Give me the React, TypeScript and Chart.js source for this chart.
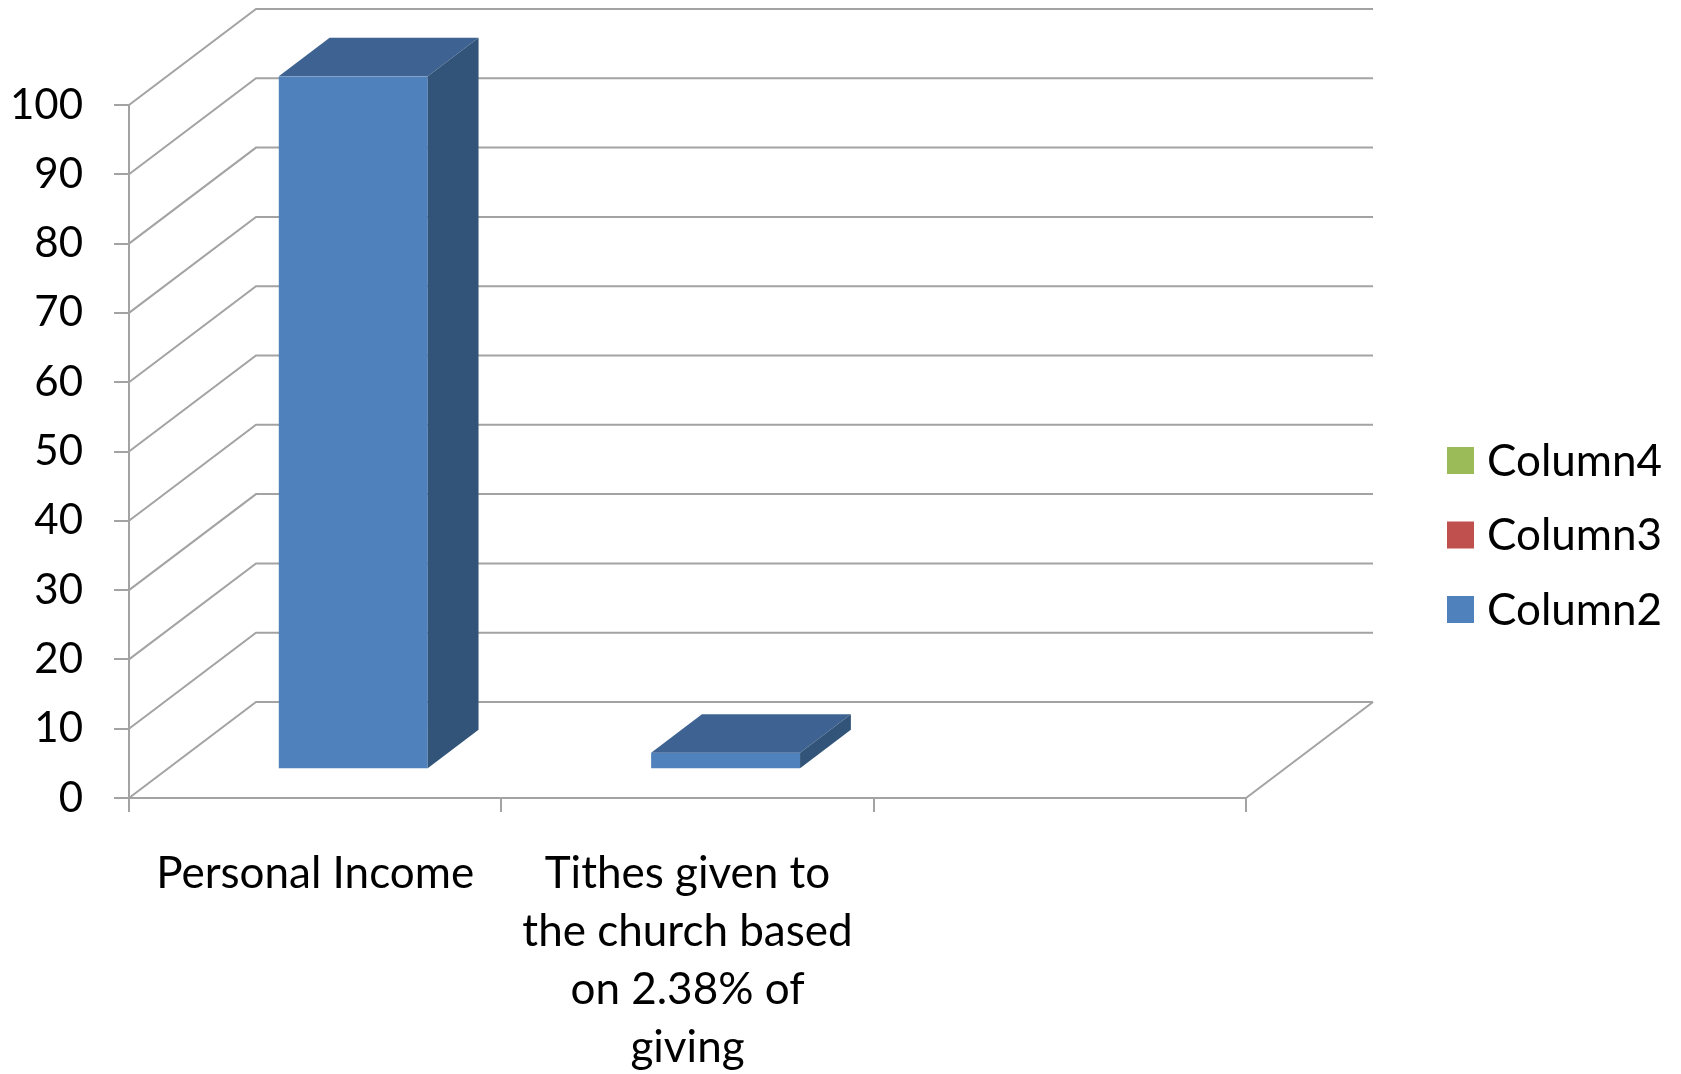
import React, { useEffect, useRef } from "react";
import { Chart, registerables } from "chart.js";

Chart.register(...registerables);

// ---- data ----
const categories: string[][] = [
  ["Personal Income"],
  ["Tithes given to", "the church based", "on 2.38% of", "giving"],
  [""],
];
const seriesNames = ["Column2", "Column3", "Column4"];
const column2: (number | null)[] = [100, 2.38, null];
const column3: (number | null)[] = [null, null, null];
const column4: (number | null)[] = [null, null, null];
const yMin = 0;
const yMax = 100;
const yStep = 10;

// ---- styles ----
const FONT = "Lato";
const FONT_SIZE = 44;
const Y_FONT_SIZE = 42;
const GRID = "#a3a3a3";
const FRONT = ["#4F81BD", "#C0504D", "#9BBB59"];
const TOP = ["#3E6392", "#953F3C", "#7A9446"];
const SIDE = ["#325479", "#7A3331", "#637838"];
const DX = 127;
const DY = -96;
const BAR_FRONT = 0.3;
const BAR_BACK = 0.7;

const threeD = {
  id: "threeD",
  beforeDatasetsDraw(chart: any) {
    const { ctx, chartArea } = chart;
    const y = chart.scales.y;
    const { left, right, bottom } = chartArea;
    ctx.save();
    ctx.strokeStyle = GRID;
    ctx.lineWidth = 2;
    ctx.beginPath();
    y.ticks.forEach((t: any) => {
      const py = y.getPixelForValue(t.value);
      ctx.moveTo(left, py);
      ctx.lineTo(left + DX, py + DY);
      ctx.lineTo(right + DX, py + DY);
    });
    ctx.moveTo(right, bottom);
    ctx.lineTo(right + DX, bottom + DY);
    ctx.stroke();
    ctx.restore();
  },
  beforeDatasetDraw(chart: any) {
    chart.ctx.save();
    chart.ctx.translate(DX * BAR_FRONT, DY * BAR_FRONT);
  },
  afterDatasetDraw(chart: any, args: any) {
    const { ctx } = chart;
    const ds = chart.data.datasets[args.index];
    const d = BAR_BACK - BAR_FRONT;
    const ddx = DX * d;
    const ddy = DY * d;
    args.meta.data.forEach((el: any, i: number) => {
      if (ds.data[i] == null) return;
      const { x, y, base, width } = el.getProps(["x", "y", "base", "width"], true);
      const l = x - width / 2;
      const r = x + width / 2;
      ctx.fillStyle = TOP[args.index];
      ctx.beginPath();
      ctx.moveTo(l, y);
      ctx.lineTo(r, y);
      ctx.lineTo(r + ddx, y + ddy);
      ctx.lineTo(l + ddx, y + ddy);
      ctx.closePath();
      ctx.fill();
      ctx.fillStyle = SIDE[args.index];
      ctx.beginPath();
      ctx.moveTo(r, y);
      ctx.lineTo(r + ddx, y + ddy);
      ctx.lineTo(r + ddx, base + ddy);
      ctx.lineTo(r, base);
      ctx.closePath();
      ctx.fill();
    });
    ctx.restore();
  },
  afterDraw(chart: any) {
    const { ctx } = chart;
    ctx.save();
    ctx.font = `${FONT_SIZE}px ${FONT}`;
    ctx.textBaseline = "middle";
    ctx.textAlign = "left";
    const n = chart.data.datasets.length;
    for (let k = 0; k < n; k++) {
      const idx = n - 1 - k;
      const cy = 460.5 + k * 74.5;
      ctx.fillStyle = FRONT[idx];
      ctx.fillRect(1447, cy - 13.5, 27, 27);
      ctx.fillStyle = "#000";
      ctx.fillText(chart.data.datasets[idx].label, 1487, cy + 1);
    }
    ctx.restore();
  },
};

export default function App() {
  const ref = useRef<HTMLCanvasElement | null>(null);
  useEffect(() => {
    document.body.style.margin = "0";
    document.body.style.overflow = "hidden";
    const canvas = ref.current!;
    const data = [column2, column3, column4];
    const chart = new Chart(canvas, {
      type: "bar",
      data: {
        labels: categories,
        datasets: seriesNames.map((name, i) => ({
          label: name,
          data: data[i],
          backgroundColor: FRONT[i],
          borderWidth: 0,
          grouped: false,
          barPercentage: 0.4,
          categoryPercentage: 1,
        })),
      } as any,
      options: {
        animation: false,
        responsive: true,
        maintainAspectRatio: false,
        layout: { padding: { left: 0, top: 105, right: 1681 - 1246, bottom: 0 } },
        plugins: { legend: { display: false }, tooltip: { enabled: false } },
        scales: {
          x: {
            grid: { offset: true, drawOnChartArea: false, drawTicks: true, tickLength: 14, color: GRID, lineWidth: 2 },
            border: { color: GRID, width: 2 },
            ticks: {
              color: "#000",
              font: { family: FONT, size: FONT_SIZE, lineHeight: 1.32 },
              padding: 33,
              maxRotation: 0,
              autoSkip: false,
            },
            afterFit: (s: any) => {
              s.height = 1074 - 798;
            },
          },
          y: {
            min: yMin,
            max: yMax,
            grid: { drawOnChartArea: false, drawTicks: true, tickLength: 15, color: GRID, lineWidth: 2 },
            border: { color: GRID, width: 2 },
            ticks: {
              stepSize: yStep,
              color: "#000",
              font: { family: FONT, size: Y_FONT_SIZE },
              padding: 31,
            },
            afterFit: (s: any) => {
              s.width = 129;
            },
          },
        },
      },
      plugins: [threeD],
    });
    return () => chart.destroy();
  }, []);
  return (
    <div style={{ width: 1681, height: 1074, position: "relative" }}>
      <canvas ref={ref} />
    </div>
  );
}
